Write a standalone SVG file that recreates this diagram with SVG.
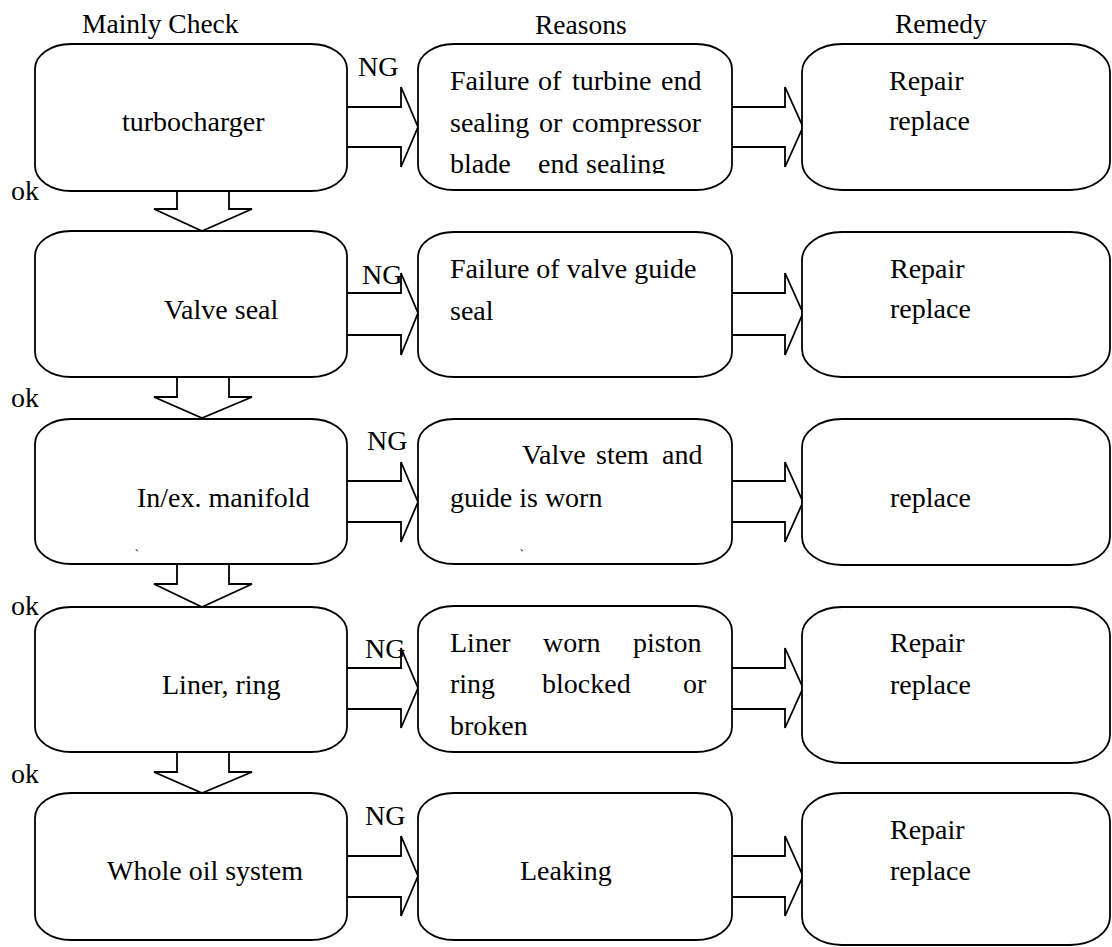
<svg xmlns="http://www.w3.org/2000/svg" width="1112" height="947" viewBox="0 0 1112 947">
<style>
.box{fill:#fff;stroke:#000;stroke-width:1.8}
.arr{fill:none;stroke:#000;stroke-width:1.8;stroke-linejoin:miter}
text{font-family:"Liberation Serif","Times New Roman",serif;font-size:28px;fill:#000}
.hd{font-size:27.5px}
.mk{font-family:"Noto Sans CJK SC",sans-serif;font-size:9px}
</style>
<defs>
<clipPath id="clip1"><rect x="418" y="44" width="314" height="130"/></clipPath>
</defs>
<rect width="1112" height="947" fill="#fff"/>
<g id="headers">
<text class="hd" x="82" y="33">Mainly Check</text>
<text class="hd" x="535" y="34">Reasons</text>
<text class="hd" x="895" y="33">Remedy</text>
</g>
<g id="connectors">
<path class="arr" d="M347,107 H401 V87 L418,127 L401,167 V147 H347"/>
<path class="arr" d="M732,107 H785 V87 L803,127 L785,167 V147 H732"/>
<path class="arr" d="M347,293 H401 V273 L418,313 L401,355 V335 H347"/>
<path class="arr" d="M732,293 H785 V273 L803,313 L785,355 V335 H732"/>
<path class="arr" d="M347,481 H401 V462 L418,502 L401,542 V522 H347"/>
<path class="arr" d="M732,481 H785 V462 L803,502 L785,542 V522 H732"/>
<path class="arr" d="M347,668 H401 V648 L418,688 L401,728 V709 H347"/>
<path class="arr" d="M732,668 H785 V648 L803,688 L785,728 V709 H732"/>
<path class="arr" d="M347,856 H401 V836 L418,876 L401,916 V897 H347"/>
<path class="arr" d="M732,856 H785 V836 L803,876 L785,916 V897 H732"/>
<path class="arr" d="M177,191 V209 H154 L202,231 L252,209 H229 V191"/>
<path class="arr" d="M177,377 V397 H154 L202,418 L252,397 H229 V377"/>
<path class="arr" d="M177,564 V584 H154 L202,607 L252,584 H229 V564"/>
<path class="arr" d="M177,752 V772 H154 L202,793 L252,772 H229 V752"/>
<text x="358" y="76">NG</text>
<text x="362" y="284">NG</text>
<text x="367" y="450">NG</text>
<text x="365" y="658">NG</text>
<text x="365" y="825">NG</text>
<text x="11" y="200">ok</text>
<text x="11" y="407">ok</text>
<text x="11" y="615">ok</text>
<text x="11" y="783">ok</text>
</g>
<g id="check1"><rect class="box" x="35" y="44" width="312" height="147" rx="36" ry="25"/><text x="122" y="131">turbocharger</text></g>
<g id="check2"><rect class="box" x="35" y="231" width="312" height="146" rx="36" ry="25"/><text x="164" y="319">Valve seal</text></g>
<g id="check3"><rect class="box" x="35" y="419" width="312" height="145" rx="36" ry="25"/><text x="137" y="507">In/ex. manifold</text><text class="mk" x="135" y="551">、</text></g>
<g id="check4"><rect class="box" x="35" y="607" width="312" height="145" rx="36" ry="25"/><text x="162" y="694">Liner, ring</text></g>
<g id="check5"><rect class="box" x="35" y="793" width="312" height="147" rx="36" ry="25"/><text x="107" y="880">Whole oil system</text></g>
<g id="reason1"><rect class="box" x="418" y="44" width="314" height="146" rx="36" ry="25"/>
<text x="450" y="90">Failure</text><text x="538" y="90">of</text><text x="572" y="90">turbine</text><text x="661" y="90">end</text>
<text x="450" y="132">sealing</text><text x="539" y="132">or</text><text x="572" y="132">compressor</text>
<g clip-path="url(#clip1)"><text x="450" y="173">blade</text><text x="538" y="173">end</text><text x="586" y="173">sealing</text></g></g>
<g id="reason2"><rect class="box" x="418" y="232" width="314" height="145" rx="36" ry="25"/><text x="450" y="278">Failure of valve guide</text><text x="450" y="320">seal</text></g>
<g id="reason3"><rect class="box" x="418" y="419" width="314" height="145" rx="36" ry="25"/><text x="522" y="464">Valve</text><text x="596" y="464">stem</text><text x="662" y="464">and</text><text x="450" y="507">guide is worn</text><text class="mk" x="520" y="551">、</text></g>
<g id="reason4"><rect class="box" x="418" y="606" width="314" height="146" rx="36" ry="25"/>
<text x="450" y="652">Liner</text><text x="543" y="652">worn</text><text x="633" y="652">piston</text>
<text x="450" y="693">ring</text><text x="542" y="693">blocked</text><text x="683" y="693">or</text>
<text x="450" y="735">broken</text></g>
<g id="reason5"><rect class="box" x="418" y="793" width="314" height="147" rx="36" ry="25"/><text x="520" y="880">Leaking</text></g>
<g id="remedy1"><rect class="box" x="802" y="44" width="308" height="146" rx="40" ry="28"/><text x="889" y="90">Repair</text><text x="889" y="130">replace</text></g>
<g id="remedy2"><rect class="box" x="802" y="232" width="308" height="145" rx="40" ry="28"/><text x="890" y="278">Repair</text><text x="890" y="318">replace</text></g>
<g id="remedy3"><rect class="box" x="802" y="419" width="308" height="146" rx="40" ry="28"/><text x="890" y="507">replace</text></g>
<g id="remedy4"><rect class="box" x="802" y="607" width="308" height="156" rx="40" ry="28"/><text x="890" y="652">Repair</text><text x="890" y="694">replace</text></g>
<g id="remedy5"><rect class="box" x="802" y="793" width="308" height="152" rx="40" ry="28"/><text x="890" y="839">Repair</text><text x="890" y="880">replace</text></g>
</svg>
